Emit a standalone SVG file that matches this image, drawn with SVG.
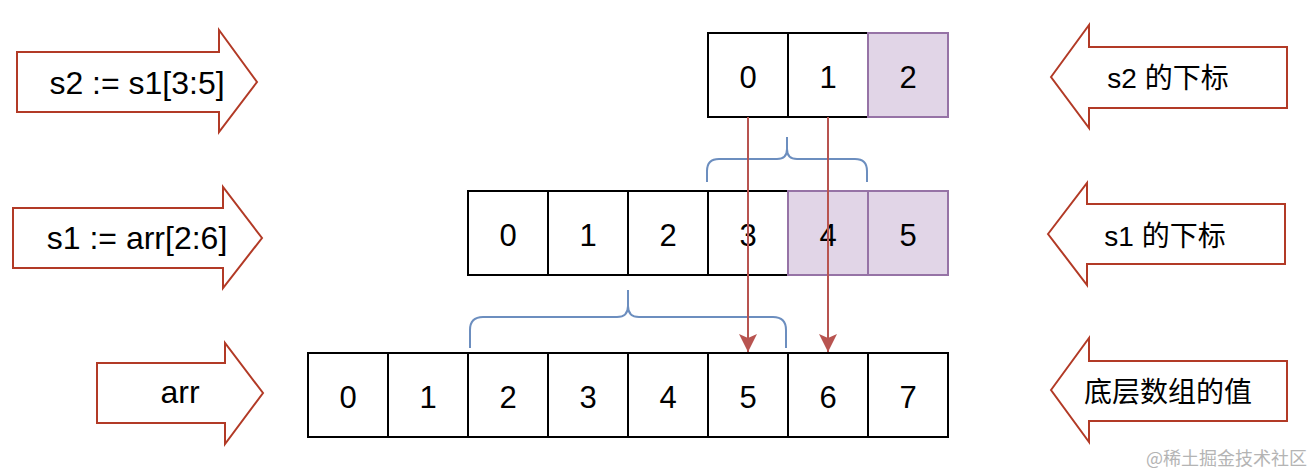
<svg xmlns="http://www.w3.org/2000/svg" width="1314" height="468" viewBox="0 0 1314 468">
<style>
.cell{fill:#ffffff;stroke:#000000;stroke-width:2}
.hl{fill:#e1d5e7;stroke:#9673a6;stroke-width:2}
.num{font-family:"Liberation Sans",Arial,sans-serif;font-size:31px;fill:#000;text-anchor:middle}
.blk{fill:#ffffff;stroke:#b23a26;stroke-width:2;stroke-linejoin:miter}
.lab{font-family:"Liberation Sans",Arial,sans-serif;font-size:32px;fill:#000;text-anchor:middle}
.labc{font-family:"Liberation Sans","Noto Sans CJK SC",sans-serif;font-size:28px;fill:#000;text-anchor:middle}
.brace{fill:none;stroke:#6c8ebf;stroke-width:2}
.conn{fill:none;stroke:#b85450;stroke-width:2}
</style>
<defs>
<marker id="ah" markerUnits="userSpaceOnUse" markerWidth="18" markerHeight="18" refX="18" refY="9" orient="auto">
<path d="M0,0 L18,9 L0,18 L4,9 Z" fill="#b85450"/>
</marker>
</defs>

<g id="label-s2">
<path class="blk" d="M17,52 H219 V30 L257,82 L219,132 V112 H17 Z"/>
<text class="lab" x="137" y="94">s2 := s1[3:5]</text>
</g>
<g id="label-s1">
<path class="blk" d="M13,208 H223 V187 L262,238 L223,288 V268 H13 Z"/>
<text class="lab" x="137" y="249">s1 := arr[2:6]</text>
</g>
<g id="label-arr">
<path class="blk" d="M97,363 H225 V343 L263,393 L225,444 V423 H97 Z"/>
<text class="lab" x="180" y="403">arr</text>
</g>

<g id="label-s2-index">
<path class="blk" d="M1051,77 L1089,25 V47 H1287 V108 H1089 V128 Z"/>
<text class="labc" x="1168" y="88">s2 的下标</text>
</g>
<g id="label-s1-index">
<path class="blk" d="M1048,234 L1087,183 V204 H1285 V264 H1087 V285 Z"/>
<text class="labc" x="1165" y="246">s1 的下标</text>
</g>
<g id="label-arr-values">
<path class="blk" d="M1051,390 L1089,338 V361 H1287 V421 H1089 V442 Z"/>
<text class="labc" x="1168" y="402">底层数组的值</text>
</g>

<g id="s2-array">
<rect class="cell" x="708" y="33" width="80" height="84"/>
<rect class="cell" x="788" y="33" width="80" height="84"/>
<rect class="hl" x="868" y="33" width="80" height="84"/>
<text class="num" x="748" y="88">0</text>
<text class="num" x="828" y="88">1</text>
<text class="num" x="908" y="88">2</text>
</g>

<g id="s1-array">
<rect class="cell" x="468" y="191" width="80" height="84"/>
<rect class="cell" x="548" y="191" width="80" height="84"/>
<rect class="cell" x="628" y="191" width="80" height="84"/>
<rect class="cell" x="708" y="191" width="80" height="84"/>
<rect class="hl" x="788" y="191" width="80" height="84"/>
<rect class="hl" x="868" y="191" width="80" height="84"/>
<text class="num" x="508" y="246">0</text>
<text class="num" x="588" y="246">1</text>
<text class="num" x="668" y="246">2</text>
<text class="num" x="748" y="246">3</text>
<text class="num" x="828" y="246">4</text>
<text class="num" x="908" y="246">5</text>
</g>

<g id="arr-array">
<rect class="cell" x="308" y="353" width="80" height="84"/>
<rect class="cell" x="388" y="353" width="80" height="84"/>
<rect class="cell" x="468" y="353" width="80" height="84"/>
<rect class="cell" x="548" y="353" width="80" height="84"/>
<rect class="cell" x="628" y="353" width="80" height="84"/>
<rect class="cell" x="708" y="353" width="80" height="84"/>
<rect class="cell" x="788" y="353" width="80" height="84"/>
<rect class="cell" x="868" y="353" width="80" height="84"/>
<text class="num" x="348" y="408">0</text>
<text class="num" x="428" y="408">1</text>
<text class="num" x="508" y="408">2</text>
<text class="num" x="588" y="408">3</text>
<text class="num" x="668" y="408">4</text>
<text class="num" x="748" y="408">5</text>
<text class="num" x="828" y="408">6</text>
<text class="num" x="908" y="408">7</text>
</g>

<g id="brace-s2">
<path class="brace" d="M707,182 V171 Q707,159 719,159 H777 Q787,159 787,149 V137 M787,149 Q787,159 797,159 H855 Q867,159 867,171 V182"/>
</g>
<g id="brace-s1">
<path class="brace" d="M470,348 V330 Q470,317 483,317 H617 Q628,317 628,306 V290 M628,306 Q628,317 639,317 H773 Q786,317 786,330 V348"/>
</g>

<g id="connectors">
<line class="conn" x1="748" y1="117" x2="748" y2="352" marker-end="url(#ah)"/>
<line class="conn" x1="828" y1="117" x2="828" y2="352" marker-end="url(#ah)"/>
</g>

<text x="1307" y="465" font-family="'Noto Sans CJK SC',sans-serif" font-size="18" fill="#b4b4b4" text-anchor="end">@稀土掘金技术社区</text>
</svg>
